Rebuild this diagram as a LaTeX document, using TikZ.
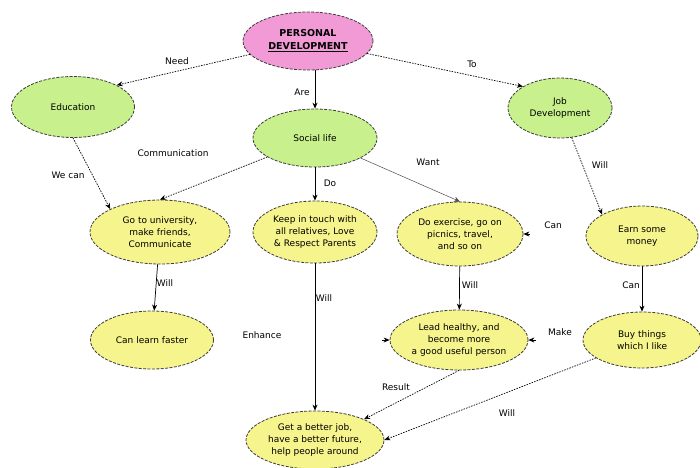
\documentclass[tikz,border=0pt]{standalone}
\usepackage{fontspec}
\setmainfont{DejaVu Sans}
\usetikzlibrary{shapes.geometric,arrows.meta}

\definecolor{rootpink}{RGB}{242,154,214}
\definecolor{topgreen}{RGB}{200,240,140}
\definecolor{leafyellow}{RGB}{246,244,140}
\definecolor{rimgray}{RGB}{60,60,60}

\tikzset{
  concept/.style={ellipse, draw=rimgray, line width=0.8pt,
    dash pattern=on 3pt off 1.4pt, inner sep=0pt, align=center,
    font=\fontsize{9}{12}\selectfont},
  rootc/.style={concept, fill=rootpink, minimum width=130pt, minimum height=58pt,
    font=\fontsize{9.5}{13}\selectfont\bfseries},
  greenc/.style={concept, fill=topgreen},
  yellowc/.style={concept, fill=leafyellow},
  link/.style={-{Stealth[length=6pt,width=5pt]}, line width=0.7pt, black},
  dotlink/.style={link, dash pattern=on 1.5pt off 1.2pt},
  thinlink/.style={link, line width=0.5pt, draw=black!70},
  lbl/.style={font=\fontsize{9}{11}\selectfont, inner sep=1pt}
}

\begin{document}
\begin{tikzpicture}[x=1pt,y=-1pt]
\useasboundingbox (0,0) rectangle (700,467);

% concepts
\node[rootc] (root) at (308,41) {PERSONAL\\\underline{DEVELOPMENT}};
\node[greenc, minimum width=123pt, minimum height=61pt] (edu) at (73,107) {Education};
\node[greenc, minimum width=124pt, minimum height=58pt] (soc) at (315,138) {Social life};
\node[greenc, minimum width=104pt, minimum height=60pt] (job) at (560,108) {Job\\Development};

\node[yellowc, minimum width=140pt, minimum height=64pt] (uni) at (160,232)
  {Go to university,\\make friends,\\Communicate};
\node[yellowc, minimum width=124pt, minimum height=62pt] (keep) at (315,232)
  {Keep in touch with\\all relatives, Love\\\& Respect Parents};
\node[yellowc, minimum width=126pt, minimum height=64pt] (ex) at (460,234)
  {Do exercise, go on\\picnics, travel,\\and so on};
\node[yellowc, minimum width=112pt, minimum height=60pt] (earn) at (642,236)
  {Earn some\\money};

\node[yellowc, minimum width=123pt, minimum height=58pt] (learn) at (152,340)
  {Can learn faster};
\node[yellowc, minimum width=138pt, minimum height=60pt] (lead) at (459,340)
  {Lead healthy, and\\become more\\a good useful person};
\node[yellowc, minimum width=118pt, minimum height=56pt] (buy) at (642,340)
  {Buy things\\which I like};
\node[yellowc, minimum width=138pt, minimum height=58pt] (better) at (315,440)
  {Get a better job,\\have a better future,\\help people around};

% free ends of the connectors that show only their heads
\coordinate (enhstart) at (382,340);
\coordinate (makestart) at (536,340);
\coordinate (canstart) at (530,234);

% connectors
\draw[dotlink] (root) -- (edu.north east);
\draw[link] (root.south -| soc.north) -- (soc.north);
\draw[dotlink] (root) -- (job.north west);
\draw[dotlink] (edu.south) -- (uni.north west);
\draw[dotlink] (soc) -- (uni.north);
\draw[link] (soc) -- (keep);
\draw[thinlink] (soc) -- (ex.north);
\draw[dotlink] (job) -- (earn.north west);
\draw[link] (uni) -- (learn);
\draw[link] (keep) -- (better);
\draw[link] (ex) -- (lead);
\draw[link] (earn.south -| buy.north) -- (buy.north);
\draw[dotlink] (lead.south) -- (better.north east);
\draw[dotlink] (buy) -- (better.east);
\draw[link] (makestart) -- (lead.east);
\draw[link] (enhstart) -- (lead.west);
\draw[link] (canstart) -- (ex.east);

% linking phrases
\node[lbl] (lneed) at (177,61) {Need};
\node[lbl] (lare) at (302,92) {Are};
\node[lbl] (lto) at (472,64) {To};
\node[lbl] (lwecan) at (68,175) {We can};
\node[lbl] (lcomm) at (173,153) {Communication};
\node[lbl] (ldo) at (330,183) {Do};
\node[lbl] (lwant) at (428,162) {Want};
\node[lbl] (lwill1) at (600,165) {Will};
\node[lbl] (lcan1) at (553,225) {Can};
\node[lbl] (lwill2) at (165,283) {Will};
\node[lbl] (lwill3) at (324,298) {Will};
\node[lbl] (lenh) at (262,335) {Enhance};
\node[lbl] (lwill4) at (470,285) {Will};
\node[lbl] (lcan2) at (631,285) {Can};
\node[lbl] (lmake) at (560,332) {Make};
\node[lbl] (lres) at (396,387) {Result};
\node[lbl] (lwill5) at (507,413) {Will};
\end{tikzpicture}
\end{document}
